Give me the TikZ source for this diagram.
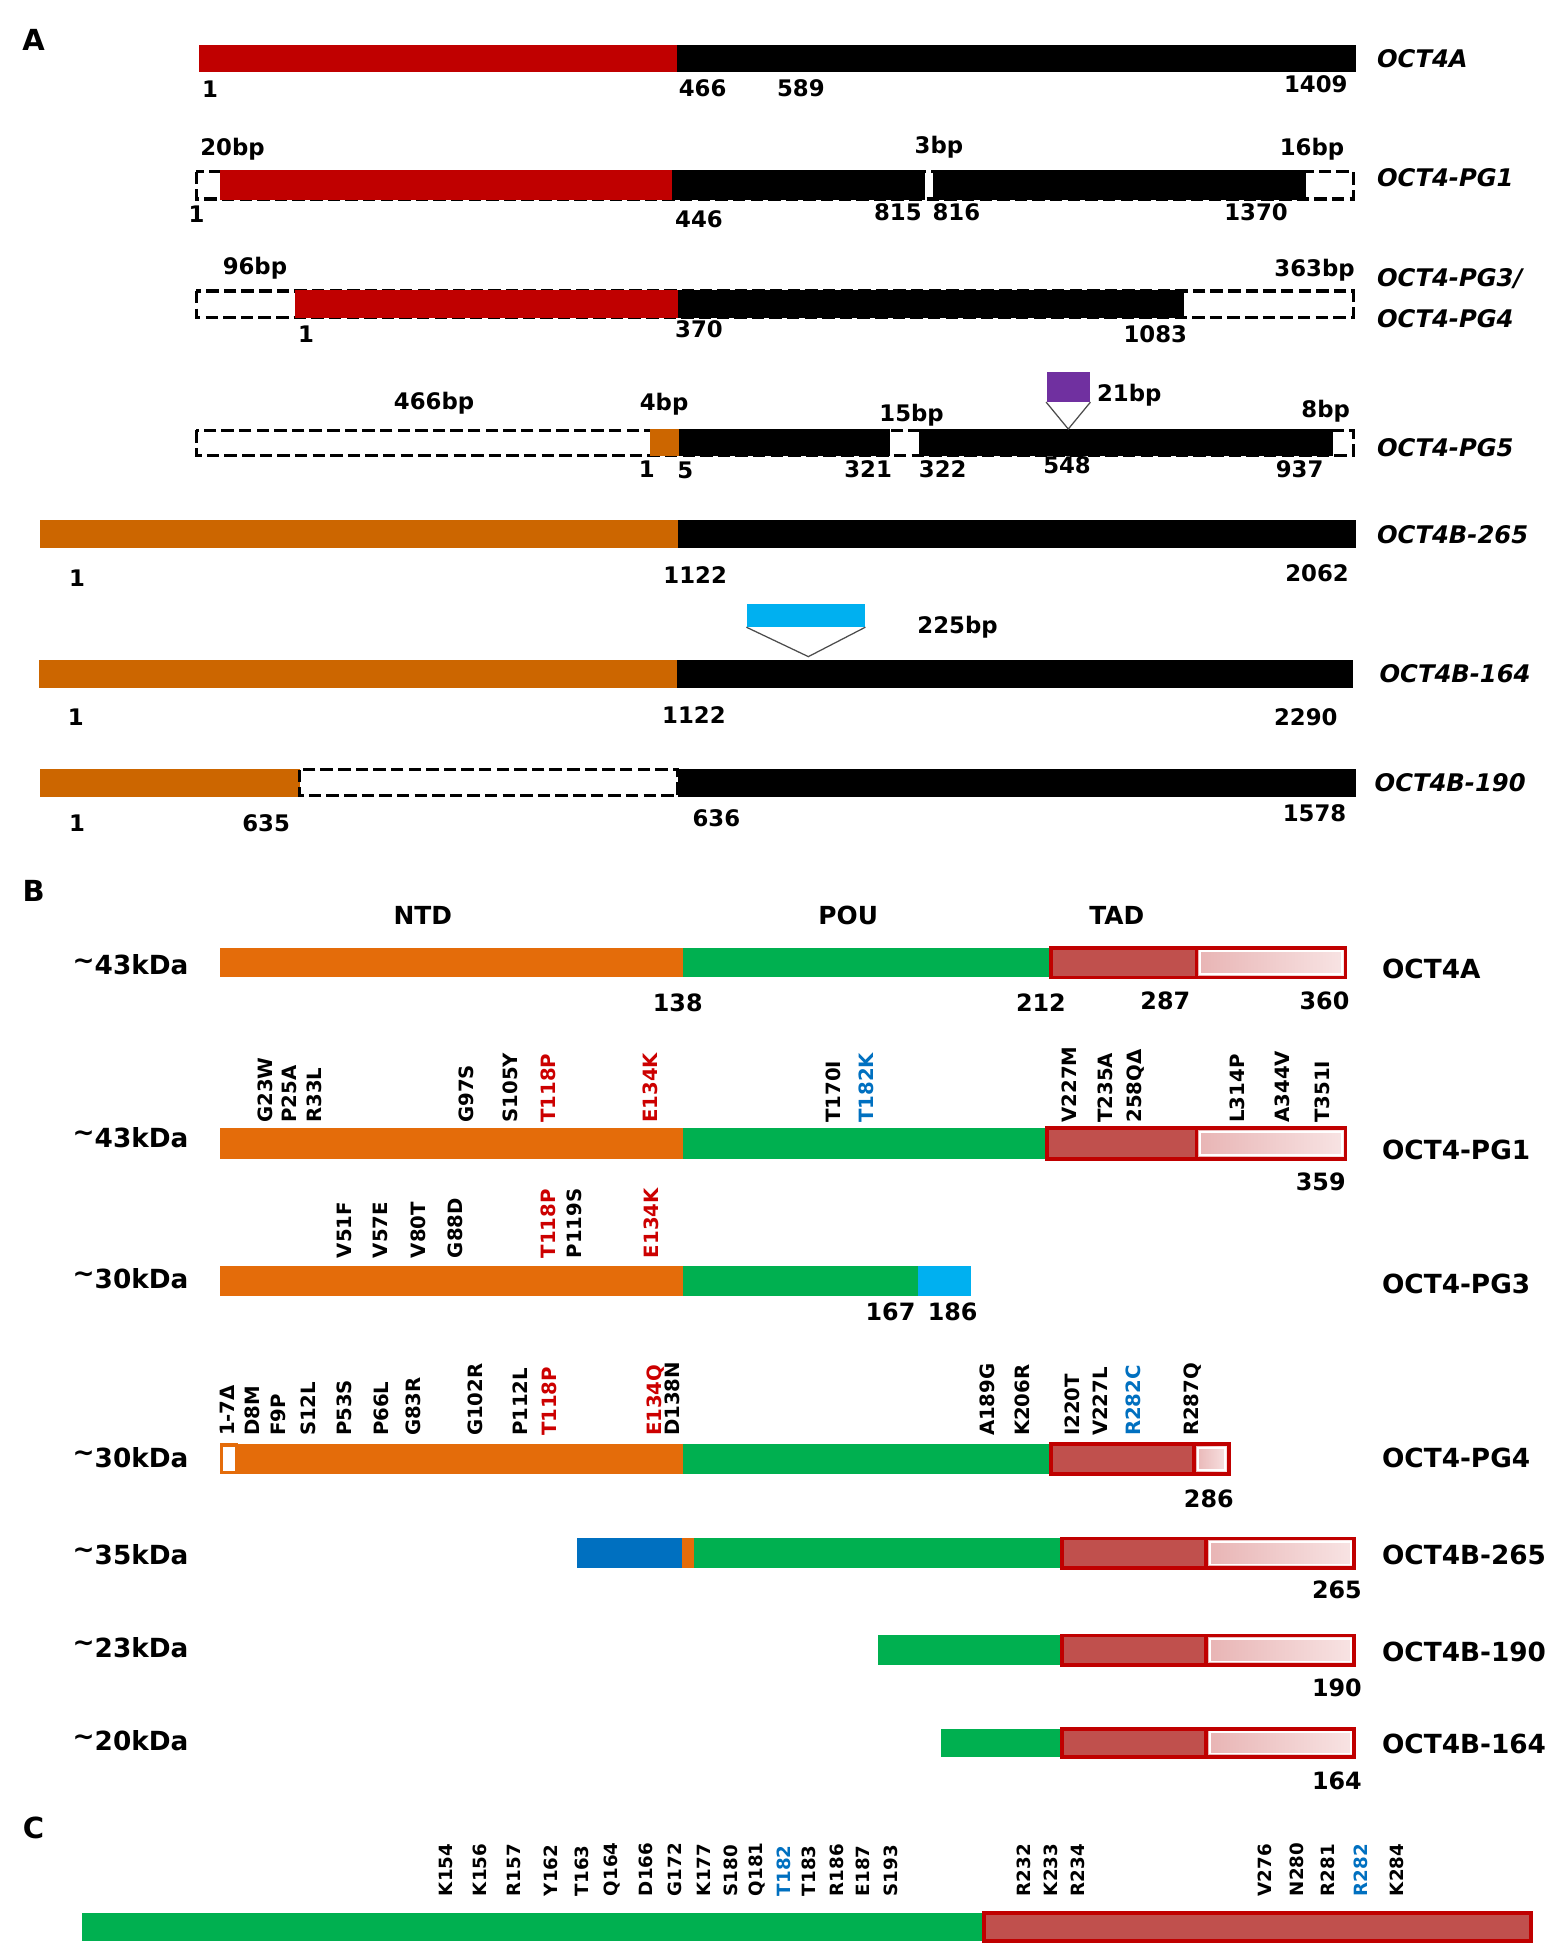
\documentclass[tikz,border=0pt]{standalone}
\usepackage{fontspec}
\setmainfont{DejaVu Sans}
\definecolor{ared}{RGB}{192,0,0}
\definecolor{aorange}{RGB}{204,102,0}
\definecolor{borange}{RGB}{228,108,10}
\definecolor{bgreen}{RGB}{0,176,80}
\definecolor{tadd}{RGB}{192,80,77}
\definecolor{tadr}{RGB}{192,0,0}
\definecolor{pinkA}{RGB}{232,180,180}
\definecolor{pinkB}{RGB}{248,228,228}
\definecolor{lblue}{RGB}{0,176,240}
\definecolor{dblue}{RGB}{0,112,192}
\definecolor{purp}{RGB}{112,48,160}
\definecolor{mred}{RGB}{204,0,0}
\definecolor{mblue}{RGB}{0,112,192}
\newcommand\tadbar[5]{%
  \fill[tadd] (#1,#4) rectangle (#2,#5);
  \shade[left color=pinkA, right color=pinkB] (#2,#4) rectangle (#3,#5);
  \draw[white, line width=0.9pt] (#2+3,#4+3) rectangle (#3-3,#5-3);
  \draw[tadr, line width=1.8pt] (#1,#4) rectangle (#3,#5);
  \draw[tadr, line width=1.8pt] (#2,#4) -- (#2,#5);
}
\newcommand\kdtilde{\raisebox{0.22em}{\textasciitilde}}
\begin{document}
\begin{tikzpicture}[x=0.6pt,y=-0.6pt,
  panel/.style={font=\fontsize{14}{16}\selectfont\bfseries, inner sep=0},
  iso/.style={font=\fontsize{11.7}{14}\selectfont\bfseries\itshape, anchor=west, inner sep=0},
  num/.style={font=\fontsize{11}{13}\selectfont\bfseries, inner sep=0},
  prot/.style={font=\fontsize{12.7}{15}\selectfont\bfseries, anchor=west, inner sep=0},
  kda/.style={font=\fontsize{12.7}{15}\selectfont\bfseries, inner sep=0},
  bnum/.style={font=\fontsize{11.5}{14}\selectfont\bfseries, inner sep=0},
  dom/.style={font=\fontsize{12}{14}\selectfont\bfseries, inner sep=0},
  mut/.style={font=\fontsize{9.5}{11}\selectfont\bfseries, rotate=90, anchor=west, inner sep=0},
  cmut/.style={font=\fontsize{8.8}{10}\selectfont\bfseries, rotate=90, anchor=west, inner sep=0},
  dbox/.style={draw=black, line width=1.5pt, dash pattern=on 6pt off 2.5pt, fill=white},
  tri/.style={draw=black!70, line width=0.6pt}
]
\useasboundingbox[fill=white] (0,0) rectangle (1256,1568);

% ================= Panel A =================
\node[panel] (pA) at (27,32) {A};

% OCT4A
\fill[ared] (160,36) rectangle (544,58);
\fill[black] (544,36) rectangle (1090,58);
\node[iso] (isoA) at (1107,47) {OCT4A};
\foreach \x/\y/\t [count=\i] in {169/72/1, 565/71/466, 644/71/589, 1058/68/1409}
  \node[num] (aa\i) at (\x,\y) {\t};

% OCT4-PG1
\draw[dbox] (158,138) rectangle (1088,160);
\fill[ared] (177,137) rectangle (540,161);
\fill[black] (540,137) rectangle (744,161);
\fill[black] (750,137) rectangle (1050,161);
\node[iso] (isoPG1) at (1107,143) {OCT4-PG1};
\foreach \x/\y/\t [count=\i] in {187/120/20bp, 755/118/3bp, 1055/120/16bp, 158/172/1, 562/176/446, 722/171/815, 769/171/816, 1010/171/1370}
  \node[num] (ab\i) at (\x,\y) {\t};

% OCT4-PG3/PG4
\draw[dbox] (158,234) rectangle (1088,255);
\fill[ared] (237,233) rectangle (545,256);
\fill[black] (545,233) rectangle (952,256);
\node[iso] (isoPG3) at (1107,224) {OCT4-PG3/};
\node[iso] (isoPG4) at (1107,256) {OCT4-PG4};
\foreach \x/\y/\t [count=\i] in {205/216/96bp, 1057/217/363bp, 246/269/1, 562/265/370, 929/269/1083}
  \node[num] (ac\i) at (\x,\y) {\t};

% OCT4-PG5
\draw[dbox] (158,346) rectangle (1088,366);
\fill[aorange] (523,345) rectangle (546,367);
\fill[black] (546,345) rectangle (716,367);
\fill[black] (739,345) rectangle (1072,367);
\node[fill=purp, minimum width=21pt, minimum height=14.4pt, inner sep=0] (ins21) at (859,311) {};
\coordinate (apex21) at (859,345);
\draw[tri] (ins21.south west) -- (apex21) -- (ins21.south east);
\node[iso] (isoPG5) at (1107,360) {OCT4-PG5};
\foreach \x/\y/\t [count=\i] in {349/324/466bp, 534/325/4bp, 733/334/15bp, 908/318/21bp, 1066/331/8bp, 520/377/1, 551/378/5, 698/377/321, 758/377/322, 858/374/548, 1045/377/937}
  \node[num] (ad\i) at (\x,\y) {\t};

% OCT4B-265
\fill[aorange] (32,418) rectangle (545,441);
\fill[black] (545,418) rectangle (1090,441);
\node[iso] (isoB265) at (1107,430) {OCT4B-265};
\foreach \x/\y/\t [count=\i] in {62/465/1, 559/462/1122, 1059/461/2062}
  \node[num] (ae\i) at (\x,\y) {\t};

% OCT4B-164
\fill[aorange] (31,531) rectangle (544,553);
\fill[black] (544,531) rectangle (1088,553);
\node[fill=lblue, minimum width=57pt, minimum height=10.8pt, inner sep=0] (ins225) at (648,495) {};
\coordinate (apex225) at (650,528);
\draw[tri] (ins225.south west) -- (apex225) -- (ins225.south east);
\node[num] (lbl225) at (770,504) {225bp};
\node[iso] (isoB164) at (1109,542) {OCT4B-164};
\foreach \x/\y/\t [count=\i] in {61/577/1, 558/575/1122, 1050/577/2290}
  \node[num] (af\i) at (\x,\y) {\t};

% OCT4B-190
\fill[aorange] (32,618) rectangle (241,641);
\draw[dbox] (241,619) rectangle (545,640);
\fill[black] (545,618) rectangle (1090,641);
\node[iso] (isoB190) at (1105,629) {OCT4B-190};
\foreach \x/\y/\t [count=\i] in {62/662/1, 214/662/635, 576/658/636, 1057/654/1578}
  \node[num] (ag\i) at (\x,\y) {\t};

% ================= Panel B =================
\node[panel] (pB) at (27,716) {B};
\node[dom] (dNTD) at (340,736) {NTD};
\node[dom] (dPOU) at (682,736) {POU};
\node[dom] (dTAD) at (898,736) {TAD};

% OCT4A
\fill[borange] (177,762) rectangle (549,786);
\fill[bgreen] (549,762) rectangle (845,786);
\tadbar{845}{962}{1082}{762}{786}
\node[kda] (kA) at (105,776) {\kdtilde 43kDa};
\node[prot] (prA) at (1111,779) {OCT4A};
\foreach \x/\y/\t [count=\i] in {545/806/138, 837/806/212, 937/805/287, 1065/805/360}
  \node[bnum] (ba\i) at (\x,\y) {\t};

% OCT4-PG1
\fill[borange] (177,907) rectangle (549,932);
\fill[bgreen] (549,907) rectangle (842,932);
\tadbar{842}{962}{1082}{907}{932}
\node[kda] (kPG1) at (105,915) {\kdtilde 43kDa};
\node[prot] (prPG1) at (1111,925) {OCT4-PG1};
\node[bnum] (bb1) at (1062,950) {359};
\foreach \x/\t/\c [count=\i] in {213/G23W/black, 233/P25A/black, 253/R33L/black, 375/G97S/black, 410/S105Y/black, 441/T118P/mred, 523/E134K/mred, 670/T170I/black, 697/T182K/mblue, 860/V227M/black, 889/T235A/black, 913/258QΔ/black, 995/L314P/black, 1031/A344V/black, 1063/T351I/black}
  \node[mut, text=\c] (mpg1\i) at (\x,903) {\t};

% OCT4-PG3
\fill[borange] (177,1018) rectangle (549,1042);
\fill[bgreen] (549,1018) rectangle (738,1042);
\fill[lblue] (738,1018) rectangle (781,1042);
\node[kda] (kPG3) at (105,1028) {\kdtilde 30kDa};
\node[prot] (prPG3) at (1111,1032) {OCT4-PG3};
\node[bnum] (bc1) at (716,1055) {167};
\node[bnum] (bc2) at (766,1055) {186};
\foreach \x/\t/\c [count=\i] in {277/V51F/black, 306/V57E/black, 336/V80T/black, 366/G88D/black, 441/T118P/mred, 462/P119S/black, 524/E134K/mred}
  \node[mut, text=\c] (mpg3\i) at (\x,1012) {\t};

% OCT4-PG4
\fill[borange] (190,1161) rectangle (549,1185);
\draw[borange, fill=white, line width=1.6pt] (178,1162) rectangle (190,1184);
\fill[bgreen] (549,1161) rectangle (845,1185);
\tadbar{845}{960}{988}{1161}{1185}
\node[kda] (kPG4) at (105,1172) {\kdtilde 30kDa};
\node[prot] (prPG4) at (1111,1172) {OCT4-PG4};
\node[bnum] (bd1) at (972,1205) {286};
\foreach \x/\t/\c [count=\i] in {183/1-7Δ/black, 203/D8M/black, 224/F9P/black, 248/S12L/black, 277/P53S/black, 307/P66L/black, 332/G83R/black, 382/G102R/black, 418/P112L/black, 442/T118P/mred, 527/E134Q/mred, 541/D138N/black, 794/A189G/black, 822/K206R/black, 862/I220T/black, 885/V227L/black, 911/R282C/mblue, 959/R287Q/black}
  \node[mut, text=\c] (mpg4\i) at (\x,1155) {\t};

% OCT4B-265
\fill[dblue] (464,1237) rectangle (548,1261);
\fill[borange] (548,1237) rectangle (558,1261);
\fill[bgreen] (558,1237) rectangle (854,1261);
\tadbar{854}{970}{1089}{1237}{1261}
\node[kda] (kB265) at (105,1250) {\kdtilde 35kDa};
\node[prot] (prB265) at (1111,1250) {OCT4B-265};
\node[bnum] (be1) at (1075,1278) {265};

% OCT4B-190
\fill[bgreen] (706,1315) rectangle (854,1339);
\tadbar{854}{970}{1089}{1315}{1339}
\node[kda] (kB190) at (105,1325) {\kdtilde 23kDa};
\node[prot] (prB190) at (1111,1328) {OCT4B-190};
\node[bnum] (bf1) at (1075,1357) {190};

% OCT4B-164
\fill[bgreen] (757,1390) rectangle (854,1413);
\tadbar{854}{970}{1089}{1390}{1413}
\node[kda] (kB164) at (105,1400) {\kdtilde 20kDa};
\node[prot] (prB164) at (1111,1402) {OCT4B-164};
\node[bnum] (bg1) at (1075,1432) {164};

% ================= Panel C =================
\node[panel] (pC) at (27,1470) {C};
\fill[bgreen] (66,1538) rectangle (791,1561);
\fill[tadd] (791,1538) rectangle (1231,1561);
\draw[tadr, line width=1.8pt] (791,1538) rectangle (1231,1561);
\foreach \x/\t/\c [count=\i] in {359/K154/black, 386/K156/black, 413/R157/black, 443/Y162/black, 468/T163/black, 492/Q164/black, 519/D166/black, 543/G172/black, 566/K177/black, 588/S180/black, 609/Q181/black, 630/T182/mblue, 650/T183/black, 673/R186/black, 694/E187/black, 716/S193/black, 823/R232/black, 845/K233/black, 867/R234/black, 1017/V276/black, 1043/N280/black, 1068/R281/black, 1094/R282/mblue, 1123/K284/black}
  \node[cmut, text=\c] (mc\i) at (\x,1525) {\t};
\end{tikzpicture}
\end{document}
